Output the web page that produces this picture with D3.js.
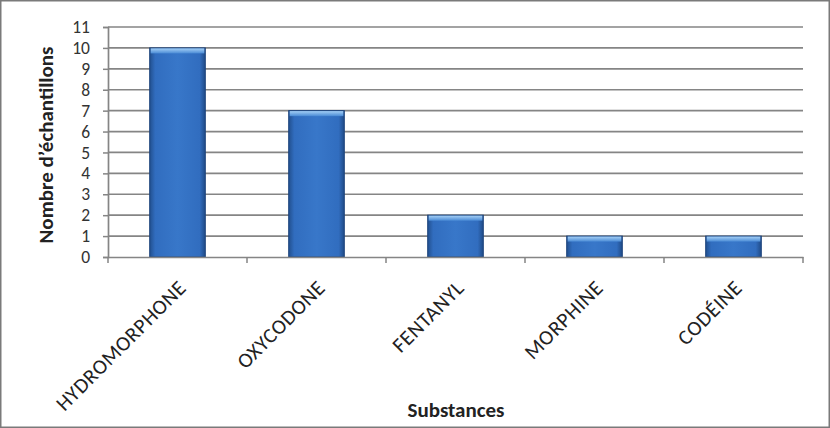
<!DOCTYPE html>
<html><head><meta charset="utf-8">
<script src="https://cdn.jsdelivr.net/npm/d3@7"></script>
<style>
html,body{margin:0;padding:0;background:#fff;}
svg{display:block;font-family:Carlito, Lato, "Open Sans", sans-serif;}
</style></head>
<body>
<svg id="c" width="830" height="428"></svg>
<script>
const categories = ["HYDROMORPHONE","OXYCODONE","FENTANYL","MORPHINE","CODÉINE"];
const values = [10,7,2,1,1];
const yTicks = [0,1,2,3,4,5,6,7,8,9,10,11];
const yTitle = "Nombre d’échantillons";
const xTitle = "Substances";

const svg = d3.select("#c");
const W = 830, H = 428;
const m = {left:108, right:27, top:27, bottom:171};

svg.append("rect").attr("x",0.75).attr("y",0.75).attr("width",W-1.5).attr("height",H-1.5)
  .attr("fill","#fff").attr("stroke","#7a7a7a").attr("stroke-width",1.5);

const x = d3.scaleBand().domain(categories).range([m.left, W-m.right]).paddingInner(0.6).paddingOuter(0.3);
const xb = d3.scaleBand().domain(categories).range([m.left, W-m.right]);
const y = d3.scaleLinear().domain([0,11]).range([H-m.bottom, m.top]);

const defs = svg.append("defs");
const g1 = defs.append("linearGradient").attr("id","barg").attr("x1",0).attr("x2",1).attr("y1",0).attr("y2",0);
g1.append("stop").attr("offset","0%").attr("stop-color","#22508f");
g1.append("stop").attr("offset","10%").attr("stop-color","#316dbf");
g1.append("stop").attr("offset","50%").attr("stop-color","#3877c9");
g1.append("stop").attr("offset","90%").attr("stop-color","#316dbf");
g1.append("stop").attr("offset","100%").attr("stop-color","#204b87");
const g2 = defs.append("linearGradient").attr("id","topg").attr("x1",0).attr("x2",0).attr("y1",0).attr("y2",1);
g2.append("stop").attr("offset","0%").attr("stop-color","#a4cff5");
g2.append("stop").attr("offset","100%").attr("stop-color","#4a8bd6");

// gridlines
svg.append("g").selectAll("line").data(yTicks.filter(d=>d>0)).join("line")
  .attr("x1",m.left).attr("x2",W-m.right)
  .attr("y1",d=>y(d)).attr("y2",d=>y(d))
  .attr("stroke","#858585").attr("stroke-width",1.7);

// y axis
const ya = svg.append("g").attr("transform",`translate(${m.left},0)`)
  .call(d3.axisLeft(y).tickValues(yTicks).tickSize(5).tickPadding(13).tickFormat(d3.format("d")));
ya.select(".domain").attr("stroke","#858585").attr("stroke-width",1.7);
ya.selectAll(".tick line").attr("stroke","#858585").attr("stroke-width",1.5);
ya.selectAll("text").attr("font-size",17.5).attr("fill","#333").attr("font-family","Carlito, Lato, sans-serif");

// bars
const bars = svg.append("g").selectAll("g").data(categories).join("g");
bars.append("rect")
  .attr("x",d=>x(d)).attr("width",x.bandwidth())
  .attr("y",(d,i)=>y(values[i])).attr("height",(d,i)=>y(0)-y(values[i]))
  .attr("fill","url(#barg)").attr("stroke","#1d447c").attr("stroke-width",1);
bars.append("rect")
  .attr("x",d=>x(d)+1).attr("width",x.bandwidth()-2)
  .attr("y",(d,i)=>y(values[i])+0.5).attr("height",5)
  .attr("fill","url(#topg)");

// x axis
const xa = svg.append("g").attr("transform",`translate(0,${y(0)})`)
  .call(d3.axisBottom(xb).tickSize(0).tickFormat(""));
xa.select(".domain").attr("stroke","#858585").attr("stroke-width",1.7);
xa.selectAll(".tick").remove();
const bounds = categories.map(c=>xb(c)).concat([W-m.right]);
xa.selectAll("line.sep").data(bounds).join("line").attr("class","sep")
  .attr("x1",d=>d).attr("x2",d=>d).attr("y1",0).attr("y2",6)
  .attr("stroke","#858585").attr("stroke-width",1.5);

// x labels
svg.append("g").selectAll("text").data(categories).join("text")
  .attr("transform",d=>`translate(${xb(d)+xb.bandwidth()/2+10},${y(0)+32}) rotate(-45)`)
  .attr("text-anchor","end").attr("font-size",21).attr("letter-spacing",0.6).attr("fill","#222")
  .text(d=>d);

// titles
svg.append("text").attr("transform",`translate(53,${145}) rotate(-90)`)
  .attr("text-anchor","middle").attr("font-size",21).attr("font-weight","bold").attr("fill","#222")
  .text(yTitle);
svg.append("text").attr("x",456).attr("y",417)
  .attr("text-anchor","middle").attr("font-size",21).attr("font-weight","bold").attr("fill","#222")
  .text(xTitle);
</script>
</body></html>
